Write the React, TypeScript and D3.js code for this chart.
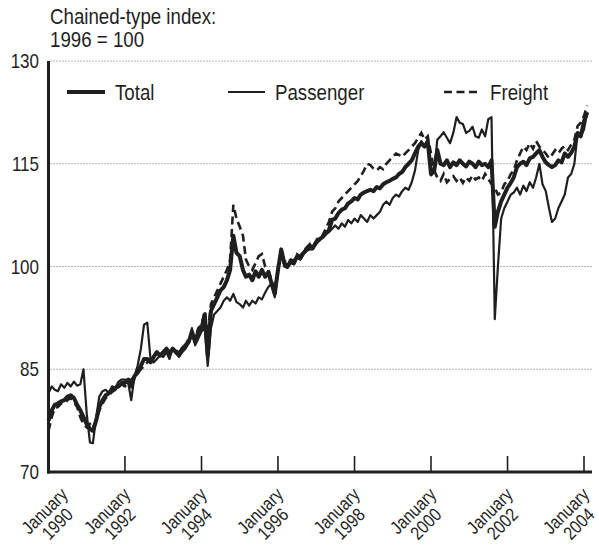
import React from "react";
import * as d3 from "d3";

// Monthly values, January 1990 – February 2004 (chained-type index, 1996 = 100)
const startYear = 1990;

const total: number[] = [
  // 1990
  77.5, 79, 79.8, 80, 80.3, 80.5, 81, 81.2, 80.8, 79.8, 79, 78,
  // 1991
  77, 76.3, 76, 77.5, 79.5, 80.5, 81.2, 81.5, 82, 82.3, 82.5, 83,
  // 1992
  83, 83.5, 82.5, 84, 84.5, 85.5, 86.5, 86.5, 86, 86.8, 87.5, 87,
  // 1993
  87.5, 88, 87.3, 88, 87.5, 87.2, 88, 88.5, 89, 90.5, 89, 90.5,
  // 1994
  91, 93, 87, 93.5, 94.5, 95.5, 96.5, 97, 98, 99.5, 104.5, 102,
  // 1995
  101.5, 99.5, 98.5, 98.8, 98, 99.3, 98.5, 99.5, 98.5, 99.2, 97.5, 96,
  // 1996
  99.5, 102.5, 100.5, 100, 100.8, 100.5, 101.5, 101.2, 102, 102.5, 103, 102.8,
  // 1997
  103.5, 104, 104.3, 104.8, 105.3, 106.8, 107, 107.8, 108.3, 108.5, 109.2, 109.5,
  // 1998
  110, 109.8, 110.5, 110.8, 111, 111.2, 111, 111.6, 111.4, 112, 112.3, 112.5,
  // 1999
  112.8, 113, 113.5, 113.8, 114.5, 115, 115.5, 116.5, 117.5, 118, 117.5, 118.3,
  // 2000
  113.5, 114, 117, 115, 114.8, 115.5, 114.5, 115.2, 114.8, 115.5, 115, 114.6,
  // 2001
  115.3, 115, 114.5, 115.3, 114.8, 115, 114.5, 115.5, 105.8, 108, 109.5, 110.5,
  // 2002
  111.5, 112.2, 113, 114.5, 115, 115.3, 114.8, 115.8, 116, 116.5, 117, 116,
  // 2003
  115.2, 114.8, 114.5, 114.8, 115.5, 115.2, 116.5, 116, 116.6, 117.5, 119.5, 119,
  // 2004
  121.2, 122.5,
];

const passenger: number[] = [
  // 1990
  81.5, 82.5, 82, 81.8, 82.8, 82.3, 83, 82.5, 83.2, 82.6, 82.8, 85,
  // 1991
  78.5, 74.3, 74.2, 78, 81, 81.8, 82, 81.6, 82.5, 82.3, 83.2, 83.5,
  // 1992
  83.5, 83, 80.5, 84, 85.5, 88, 91.5, 91.8, 86.5, 86, 86.5, 87,
  // 1993
  86.8, 87.5, 86.5, 88, 87.3, 86.8, 87.5, 88, 88.8, 91, 88.5, 89.5,
  // 1994
  90.5, 91, 85.5, 91, 93, 93.5, 94, 95, 95.5, 95, 96, 94.8,
  // 1995
  94.5, 94, 95, 94.3, 95, 94.6, 95.5, 95.2, 96.2, 97, 97.5, 95.5,
  // 1996
  99, 102.3, 100, 99.8, 100.5, 100.3, 101.3, 101, 101.8, 102.3, 102.5, 102.5,
  // 1997
  103.5, 103.8, 104.3, 104.8, 105, 105.5, 106, 105.5, 106.3, 105.8, 106.8, 106.3,
  // 1998
  107, 106.5, 107.5, 107, 106.5, 107.5, 107, 107.5, 108, 109, 109.5, 109,
  // 1999
  110, 110.5, 110.2, 111, 111.5, 111.2, 112.3, 114, 117, 118.3, 117.5, 118.5,
  // 2000
  113.3, 113.8, 118.5, 119, 119.6, 118.8, 118, 119.5, 121.8, 121, 120.8, 119.5,
  // 2001
  119.8, 120.4, 119, 118.8, 120, 119, 121.5, 121.8, 92.3, 100, 107, 108.5,
  // 2002
  109.5, 110.5, 110.8, 111.5, 110.5, 111.8, 111, 112.3, 111.5, 113, 115, 112,
  // 2003
  111, 108.5, 106.5, 107, 108.5, 109.5, 110.5, 113, 113.5, 115, 119.5, 119,
  // 2004
  120, 122.5,
];

const freight: number[] = [
  // 1990
  76, 78, 79.3, 79.5, 80, 80, 80.5, 80.8, 80.2, 79.5, 78, 77,
  // 1991
  76.5, 77, 76.5, 77.5, 79, 80, 80.8, 81.2, 81.7, 82, 82.5, 82.8,
  // 1992
  82.5, 83, 83.5, 84, 84.5, 85, 85.5, 86, 86.5, 87, 87.3, 87,
  // 1993
  87.3, 87.8, 87.5, 88, 87.7, 87.5, 88, 88.5, 89.5, 90, 89.5, 91,
  // 1994
  91.5, 93.5, 90, 94.5, 95.5, 96.5, 97.5, 98.5, 99.5, 101, 109, 107,
  // 1995
  105.8, 104.5, 101, 100, 99.5, 100.5, 101.5, 101.8, 100, 99.5, 98, 96.5,
  // 1996
  99.8, 102, 100.8, 100.5, 101, 100.8, 101.8, 101.5, 102.3, 102.8, 103.3, 103,
  // 1997
  103.8, 104.5, 104.5, 105.5, 106.5, 108, 108.5, 109.5, 110, 110.5, 111, 111.5,
  // 1998
  112, 112.5, 113.2, 114, 115, 114.8, 114.3, 114, 114.5, 114.2, 115, 115.5,
  // 1999
  116, 116.5, 116.3, 116, 116.5, 117, 117.5, 118, 118.8, 119.5, 118.5, 119,
  // 2000
  116.5, 114, 113, 112.5, 113.5, 112.3, 112.8, 113.2, 112.5, 113, 112.2, 113,
  // 2001
  112.5, 113.3, 112.7, 113, 112.5, 113.5, 112.8, 112, 111.5, 110.5, 110.8, 112,
  // 2002
  112.5, 113.5, 114, 115.5, 116.5, 117.5, 117, 118, 117.2, 118.3, 117.5, 117,
  // 2003
  116.5, 115.8, 116.3, 117, 116.5, 117.2, 117.6, 117, 117.8, 118.5, 120.5, 121,
  // 2004
  122, 123.5,
];

const yTicks: number[] = [70, 85, 100, 115, 130];
const gridValues: number[] = [85, 100, 115, 130];
const xTickYears: number[] = [1990, 1992, 1994, 1996, 1998, 2000, 2002, 2004];
const xTickMonthLabel = "January";
const yTitleLines: string[] = ["Chained-type index:", "1996 = 100"];
const legendLabels: string[] = ["Total", "Passenger", "Freight"];

const FONT = "'Liberation Sans', Arial, sans-serif";
const INK = "#1f1f1f";
const SQUEEZE = 0.85;

type NTProps = {
  x: number;
  y: number;
  size: number;
  anchor?: "start" | "middle" | "end";
  baseline?: string;
  squeeze?: number;
  children: React.ReactNode;
};

function NarrowText({ x, y, size, anchor = "start", baseline, squeeze = SQUEEZE, children }: NTProps) {
  return (
    <text
      transform={`translate(${x},${y}) scale(${squeeze},1)`}
      textAnchor={anchor}
      dominantBaseline={baseline}
      fontSize={size}
      fill={INK}
    >
      {children}
    </text>
  );
}

export default function App() {
  const W = 599;
  const H = 548;
  const plotLeft = 48.5;
  const plotRight = 592;
  const plotTop = 61;
  const plotBottom = 472;

  const x = d3
    .scaleTime()
    .domain([new Date(startYear, 0, 1), new Date(2004, 0, 1)])
    .range([plotLeft, 584]);
  const y = d3.scaleLinear().domain([70, 130]).range([plotBottom, plotTop]);

  const dateAt = (i: number) => new Date(startYear, i, 1);
  const lineGen = d3
    .line<number>()
    .x((_, i) => x(dateAt(i)))
    .y((d) => y(d))
    .curve(d3.curveLinear);

  const legendY = 92;
  const legendItems = [
    { label: legendLabels[0], x0: 67, x1: 105, tx: 115, w: 4, dash: undefined as string | undefined },
    { label: legendLabels[1], x0: 228, x1: 265, tx: 275, w: 2.2, dash: undefined },
    { label: legendLabels[2], x0: 444, x1: 479, tx: 490, w: 2.6, dash: "8,4.5" },
  ];

  return (
    <svg
      width={W}
      height={H}
      style={{ position: "absolute", left: 0, top: 0, background: "#fff" }}
      fontFamily={FONT}
    >
      <rect x={0} y={0} width={W} height={H} fill="#fff" />
      {/* title */}
      <NarrowText x={50} y={24} size={22}>{yTitleLines[0]}</NarrowText>
      <NarrowText x={50} y={47} size={22}>{yTitleLines[1]}</NarrowText>

      {/* gridlines */}
      {gridValues.map((v) => (
        <line
          key={"g" + v}
          x1={plotLeft + 2}
          x2={plotRight}
          y1={y(v)}
          y2={y(v)}
          stroke="#666"
          strokeWidth={1}
          strokeDasharray="1,2"
        />
      ))}

      {/* y tick labels */}
      {yTicks.map((v) => (
        <NarrowText key={"yt" + v} x={39} y={y(v)} size={20} anchor="end" baseline="central">
          {v}
        </NarrowText>
      ))}

      {/* x ticks */}
      {xTickYears.slice(1).map((yr) => (
        <line
          key={"xt" + yr}
          x1={x(new Date(yr, 0, 1))}
          x2={x(new Date(yr, 0, 1))}
          y1={plotBottom}
          y2={plotBottom - 16}
          stroke={INK}
          strokeWidth={1.6}
        />
      ))}

      {/* x labels */}
      {xTickYears.map((yr, i) => {
        const cx = x(new Date(yr, 0, 1)) + (i === 0 ? -4 : -18);
        return (
          <g key={"xl" + yr} transform={`translate(${cx},511) rotate(-45)`}>
            <NarrowText x={0} y={0} size={18.5} anchor="middle" baseline="central" squeeze={0.85}>
              {xTickMonthLabel}
            </NarrowText>
            <NarrowText x={0} y={18} size={18.5} anchor="middle" baseline="central" squeeze={0.85}>
              {yr}
            </NarrowText>
          </g>
        );
      })}

      {/* series */}
      <path d={lineGen(freight) || ""} fill="none" stroke={INK} strokeWidth={2.6} strokeDasharray="8,4.5" />
      <path d={lineGen(passenger) || ""} fill="none" stroke={INK} strokeWidth={2.2} strokeLinejoin="round" />
      <path d={lineGen(total) || ""} fill="none" stroke={INK} strokeWidth={4} strokeLinejoin="round" />

      {/* axes */}
      <line x1={plotLeft} x2={plotLeft} y1={plotTop} y2={plotBottom + 1.5} stroke={INK} strokeWidth={3} />
      <line x1={plotLeft - 1.5} x2={plotRight} y1={plotBottom} y2={plotBottom} stroke={INK} strokeWidth={3} />

      {/* legend */}
      {legendItems.map((it) => (
        <g key={"lg" + it.label}>
          <line
            x1={it.x0}
            x2={it.x1}
            y1={legendY}
            y2={legendY}
            stroke={INK}
            strokeWidth={it.w}
            strokeDasharray={it.dash}
          />
          <NarrowText x={it.tx} y={legendY} size={22} baseline="central">
            {it.label}
          </NarrowText>
        </g>
      ))}
    </svg>
  );
}
